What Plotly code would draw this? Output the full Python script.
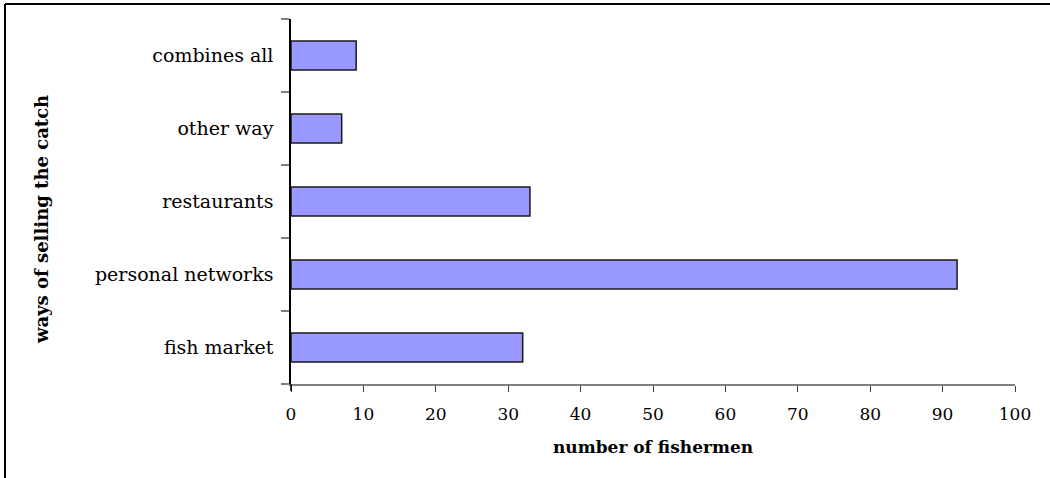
import plotly.graph_objects as go

categories = ["fish market", "personal networks", "restaurants", "other way", "combines all"]
values = [32, 92, 33, 7, 9]
x_ticks = [0, 10, 20, 30, 40, 50, 60, 70, 80, 90, 100]
x_title = "number of fishermen"
y_title = "ways of selling the catch"

FONT = "DejaVu Serif, Liberation Serif, serif"

fig = go.Figure()
fig.add_trace(go.Bar(
    y=categories, x=values, orientation="h",
    width=0.4,
    marker=dict(color="#9999FF", line=dict(color="#1a1a1a", width=1.5)),
    showlegend=False, hoverinfo="x+y",
))

L, R, T, B = 291, 35, 19, 94
W, H = 1050, 478
pw, ph = W - L - R, H - T - B

fig.update_layout(
    width=W, height=H,
    margin=dict(l=L, r=R, t=T, b=B, pad=0),
    paper_bgcolor="white", plot_bgcolor="white",
    font=dict(family=FONT, color="black", size=17),
)
fig.update_xaxes(
    range=[0, 100], tickvals=x_ticks, ticktext=[str(v) for v in x_ticks],
    showgrid=False, zeroline=False,
    showline=True, linecolor="#808080", linewidth=1.5,
    ticks="outside", ticklen=6, tickcolor="#404040", tickwidth=1,
    tickfont=dict(family=FONT, size=17), ticklabelstandoff=8,
)
fig.update_yaxes(
    type="category", categoryorder="array", categoryarray=categories,
    range=[-0.5, 4.5],
    showgrid=False, zeroline=False,
    showline=True, linecolor="black", linewidth=1.5,
    ticks="outside", tickson="boundaries", ticklen=8, tickcolor="#808080", tickwidth=1.5,
    tickfont=dict(family=FONT, size=19), ticklabelstandoff=12,
)

# axis titles placed as in the reference
fig.add_annotation(text="<b>" + x_title + "</b>", xref="paper", yref="paper",
                   x=(653 - L) / pw, y=-(447 - (H - B)) / ph, showarrow=False,
                   xanchor="center", yanchor="middle",
                   font=dict(family=FONT, size=17, color="black"))
fig.add_annotation(text="<b>" + y_title + "</b>", xref="paper", yref="paper",
                   x=(41 - L) / pw, y=((H - B) - 220) / ph, showarrow=False,
                   xanchor="center", yanchor="middle", textangle=-90,
                   font=dict(family=FONT, size=18, color="black"))

# y-axis line extending slightly below the x axis
fig.add_shape(type="line", xref="paper", yref="paper",
              x0=0, x1=0, y0=0, y1=-7 / ph, line=dict(color="black", width=1.5))
# outer border (top and left)
fig.add_shape(type="line", xref="paper", yref="paper",
              x0=(5 - L) / pw, x1=(W + 5 - L) / pw, y0=(H - B - 4) / ph, y1=(H - B - 4) / ph,
              line=dict(color="black", width=2))
fig.add_shape(type="line", xref="paper", yref="paper",
              x0=(5 - L) / pw, x1=(5 - L) / pw, y0=(H - B - 4) / ph, y1=-(B + 5) / ph,
              line=dict(color="black", width=2))

fig.write_html("out.html")
